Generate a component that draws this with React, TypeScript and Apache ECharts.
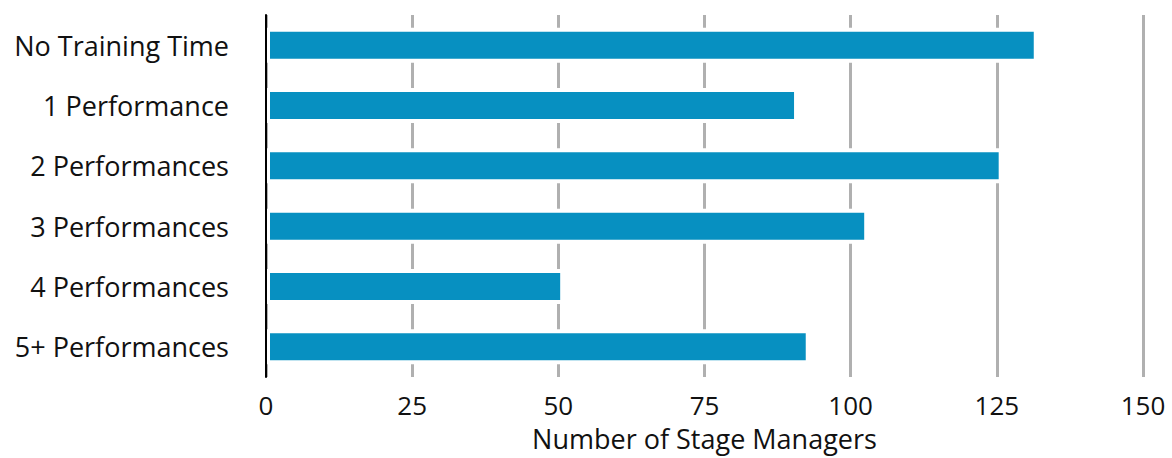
import React, { useEffect, useRef } from "react";
import * as echarts from "echarts";

const categories = [
  "No Training Time",
  "1 Performance",
  "2 Performances",
  "3 Performances",
  "4 Performances",
  "5+ Performances",
];
const values = [132, 91, 126, 103, 51, 93];
const xTicks = { min: 0, max: 150, interval: 25 };
const axisTitle = "Number of Stage Managers";

export default function App() {
  const ref = useRef<HTMLDivElement>(null);
  useEffect(() => {
    if (!ref.current) return;
    const chart = echarts.init(ref.current, undefined, { renderer: "svg" });
    const font = "'Open Sans', Lato, sans-serif";
    chart.setOption({
      animation: false,
      backgroundColor: "#ffffff",
      grid: {
        left: 266,
        right: 29,
        top: 15,
        height: 362,
        containLabel: false,
        outerBoundsMode: "none",
      },
      xAxis: {
        type: "value",
        min: xTicks.min,
        max: xTicks.max,
        interval: xTicks.interval,
        name: axisTitle,
        nameLocation: "middle",
        nameGap: 48,
        nameTextStyle: { fontFamily: font, fontSize: 27, color: "#111", lineHeight: 27 },
        axisLine: { show: false },
        axisTick: { show: false },
        axisLabel: { fontFamily: font, fontSize: 26, color: "#111", margin: 15, lineHeight: 26 },
        splitLine: { show: true, lineStyle: { color: "#b0b0b0", width: 3 } },
      },
      yAxis: {
        type: "category",
        data: categories,
        inverse: true,
        z: 5,
        axisLine: { show: true, lineStyle: { color: "#000", width: 2 } },
        axisTick: { show: false },
        axisLabel: { fontFamily: font, fontSize: 27, color: "#111", margin: 37 },
        splitLine: { show: false },
      },
      series: [
        {
          type: "bar",
          data: values,
          barWidth: 35,
          itemStyle: { color: "#0790c1", borderColor: "#ffffff", borderWidth: 4 },
        },
      ],
    });
    return () => chart.dispose();
  }, []);
  return (
    <div
      ref={ref}
      style={{ position: "absolute", left: 0, top: 0, width: 1172, height: 458 }}
    />
  );
}
